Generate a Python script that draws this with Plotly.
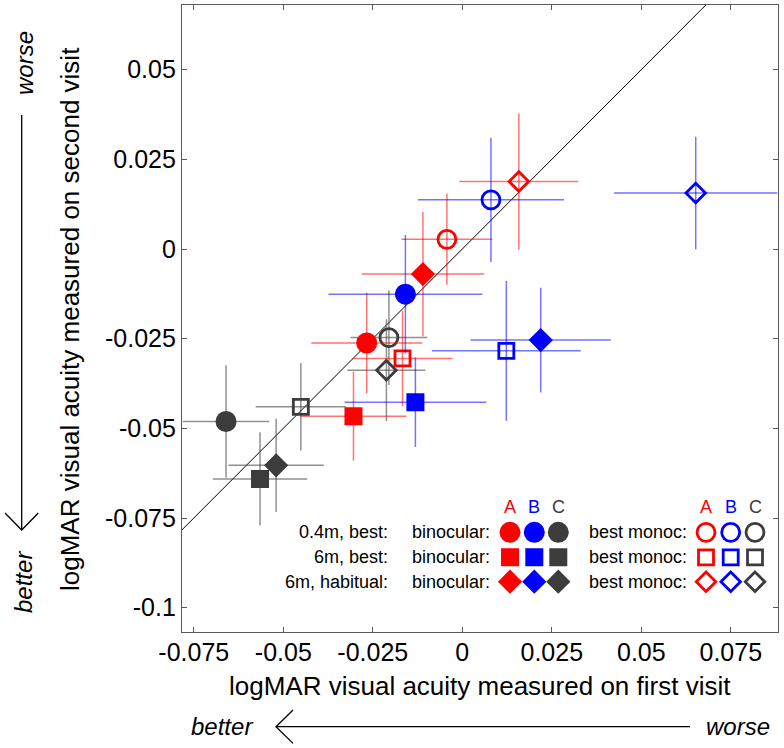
import plotly.graph_objects as go

# ---------------- data ----------------
conditions = ["0.4m, best: binocular", "0.4m, best: best monoc",
              "6m, best: binocular", "6m, best: best monoc",
              "6m, habitual: binocular", "6m, habitual: best monoc"]
groups = ["A", "B", "C"]

x_A = [-0.0267, -0.0043, -0.0304, -0.0167, -0.0110, 0.0158]
y_A = [-0.0262, 0.0027, -0.0466, -0.0305, -0.0070, 0.0188]
ex_A = [0.0155, 0.0127, 0.0148, 0.0140, 0.0171, 0.0166]
ey_A = [0.0140, 0.0127, 0.0124, 0.0133, 0.0173, 0.0190]

x_B = [-0.0159, 0.0080, -0.0131, 0.0123, 0.0219, 0.0652]
y_B = [-0.0126, 0.0137, -0.0427, -0.0284, -0.0254, 0.0156]
ex_B = [0.0215, 0.0204, 0.0198, 0.0208, 0.0196, 0.0228]
ey_B = [0.0165, 0.0173, 0.0125, 0.0195, 0.0146, 0.0157]

x_C = [-0.0660, -0.0205, -0.0565, -0.0451, -0.0520, -0.0212]
y_C = [-0.0481, -0.0247, -0.0641, -0.0440, -0.0603, -0.0338]
ex_C = [0.0121, 0.0107, 0.0132, 0.0126, 0.0133, 0.0109]
ey_C = [0.0157, 0.0132, 0.0130, 0.0122, 0.0130, 0.0142]

x_tickvals = [-0.075, -0.05, -0.025, 0, 0.025, 0.05, 0.075]
x_ticktext = ["-0.075", "-0.05", "-0.025", "0", "0.025", "0.05", "0.075"]
y_tickvals = [-0.1, -0.075, -0.05, -0.025, 0, 0.025, 0.05]
y_ticktext = ["-0.1", "-0.075", "-0.05", "-0.025", "0", "0.025", "0.05"]

row_labels = ["0.4m, best:", "6m, best:", "6m, habitual:"]

# ---------------- styles ----------------
FONT = "Arial, Liberation Sans, sans-serif"
colors = {"A": "#ff0000", "B": "#0000ff", "C": "#3c3c3c"}
err_colors = {"A": "rgba(255,0,0,0.55)", "B": "rgba(0,0,255,0.55)", "C": "rgba(70,70,70,0.6)"}
symbols = ["circle", "circle-open", "square", "square-open", "diamond", "diamond-open"]
sizes = [21, 18, 16, 15, 17, 15]
lws = [0, 2.8, 2, 2.8, 1.5, 2.8]

W, H = 784, 748
ML, MR, MT, MB = 182, 6, 5, 116
PW, PH = W - ML - MR, H - MT - MB


def PX(px):
    return (px - ML) / PW


def PY(py):
    return (H - MB - py) / PH


x0px, y0px = 462.3, 249.0
sx, sy = 3580.0, 3587.0
x_range = [-(x0px - ML) / sx, (W - MR - x0px) / sx]
y_range = [-(H - MB - y0px) / sy, (y0px - MT) / sy]

fig = go.Figure()

# identity line
fig.add_trace(go.Scatter(x=[-0.2, 0.2], y=[-0.2, 0.2], mode="lines",
                         line=dict(color="black", width=1), hoverinfo="skip",
                         showlegend=False))

data = {"A": (x_A, y_A, ex_A, ey_A), "B": (x_B, y_B, ex_B, ey_B), "C": (x_C, y_C, ex_C, ey_C)}
for g in ["C", "A", "B"]:
    xs, ys, exs, eys = data[g]
    fig.add_trace(go.Scatter(
        x=xs, y=ys, mode="markers", name=g, text=conditions, showlegend=False,
        marker=dict(symbol=symbols, size=sizes, color=colors[g], opacity=1,
                    line=dict(color=colors[g], width=lws)),
        error_x=dict(type="data", array=exs, color=err_colors[g], thickness=1.5, width=0),
        error_y=dict(type="data", array=eys, color=err_colors[g], thickness=1.5, width=0),
    ))

# ---------------- custom legend (overlay axes in plot fraction) ----------------
row_py = [532.3, 557.3, 581.7]
col_filled = [510.0, 534.3, 558.3]
col_open = [706.0, 730.7, 755.0]
leg_sym_f = ["circle", "square", "diamond"]
leg_sym_o = ["circle-open", "square-open", "diamond-open"]
leg_size_f = [21, 16, 17]
leg_size_o = [18, 15, 15]
for gi, g in enumerate(groups):
    for cols, syms, szs, lw in [(col_filled, leg_sym_f, leg_size_f, [0, 2, 1.5]),
                                (col_open, leg_sym_o, leg_size_o, [2.8, 2.8, 2.8])]:
        fig.add_trace(go.Scatter(
            x=[PX(cols[gi])] * 3, y=[PY(p) for p in row_py], xaxis="x2", yaxis="y2",
            mode="markers", showlegend=False, hoverinfo="skip",
            marker=dict(symbol=syms, size=szs, color=colors[g], opacity=1,
                        line=dict(color=colors[g], width=lw))))

ann = []
for gi, g in enumerate(groups):
    for cols in (col_filled, col_open):
        ann.append(dict(x=PX(cols[gi]), y=PY(506.7), xref="paper", yref="paper",
                        text=g, showarrow=False, xanchor="center", yanchor="middle",
                        font=dict(family=FONT, size=18, color=colors[g])))
for ri, lab in enumerate(row_labels):
    ann.append(dict(x=PX(389.5), y=PY(row_py[ri]), xref="paper", yref="paper", text=lab,
                    showarrow=False, xanchor="right", yanchor="middle",
                    font=dict(family=FONT, size=18, color="black")))
    ann.append(dict(x=PX(492), y=PY(row_py[ri]), xref="paper", yref="paper", text="binocular:",
                    showarrow=False, xanchor="right", yanchor="middle",
                    font=dict(family=FONT, size=18, color="black")))
    ann.append(dict(x=PX(688.5), y=PY(row_py[ri]), xref="paper", yref="paper", text="best monoc:",
                    showarrow=False, xanchor="right", yanchor="middle",
                    font=dict(family=FONT, size=18, color="black")))

# axis titles
ann.append(dict(x=PX(480), y=PY(686), xref="paper", yref="paper",
                text="logMAR visual acuity measured on first visit", showarrow=False,
                xanchor="center", yanchor="middle", font=dict(family=FONT, size=26, color="black")))
ann.append(dict(x=PX(70), y=PY(319), xref="paper", yref="paper", textangle=-90,
                text="logMAR visual acuity measured on second visit", showarrow=False,
                xanchor="center", yanchor="middle", font=dict(family=FONT, size=26, color="black")))
# better / worse
for txt, px, py, ang in [("worse", 25, 63, -90), ("better", 23, 582, -90),
                         ("better", 222, 726, 0), ("worse", 737.5, 726, 0)]:
    ann.append(dict(x=PX(px), y=PY(py), xref="paper", yref="paper", textangle=ang,
                    text="<i>" + txt + "</i>", showarrow=False, xanchor="center", yanchor="middle",
                    font=dict(family=FONT, size=24, color="black")))


def path(points):
    return "M " + " L ".join(f"{PX(a):.5f},{PY(b):.5f}" for a, b in points)


shapes = []
for pts in [[(21.7, 115), (21.7, 530)], [(5, 513), (21.7, 530), (38.3, 513)],
            [(276, 726.7), (690, 726.7)], [(293, 710), (276, 726.7), (293, 743.4)]]:
    shapes.append(dict(type="path", xref="paper", yref="paper", path=path(pts),
                       line=dict(color="black", width=1.3)))

axis_common = dict(showline=True, mirror="ticks", linecolor="#5a5a5a", linewidth=1.2,
                   ticks="inside", ticklen=5, tickcolor="#5a5a5a", tickwidth=1.2,
                   showgrid=False, zeroline=False,
                   tickfont=dict(family=FONT, size=25, color="black"))

fig.update_layout(
    width=W, height=H, autosize=False,
    margin=dict(l=ML, r=MR, t=MT, b=MB, pad=0),
    paper_bgcolor="white", plot_bgcolor="white",
    showlegend=False,
    xaxis=dict(range=x_range, tickvals=x_tickvals, ticktext=x_ticktext,
               ticklabelstandoff=-2, **axis_common),
    yaxis=dict(range=y_range, tickvals=y_tickvals, ticktext=y_ticktext,
               ticklabelstandoff=0, **axis_common),
    xaxis2=dict(overlaying="x", range=[0, 1], visible=False, fixedrange=True),
    yaxis2=dict(overlaying="y", range=[0, 1], visible=False, fixedrange=True),
    annotations=ann, shapes=shapes,
)

fig.write_html("out.html", config={"displayModeBar": False},
               post_script="document.body.style.margin='0';document.body.style.padding='0';")
